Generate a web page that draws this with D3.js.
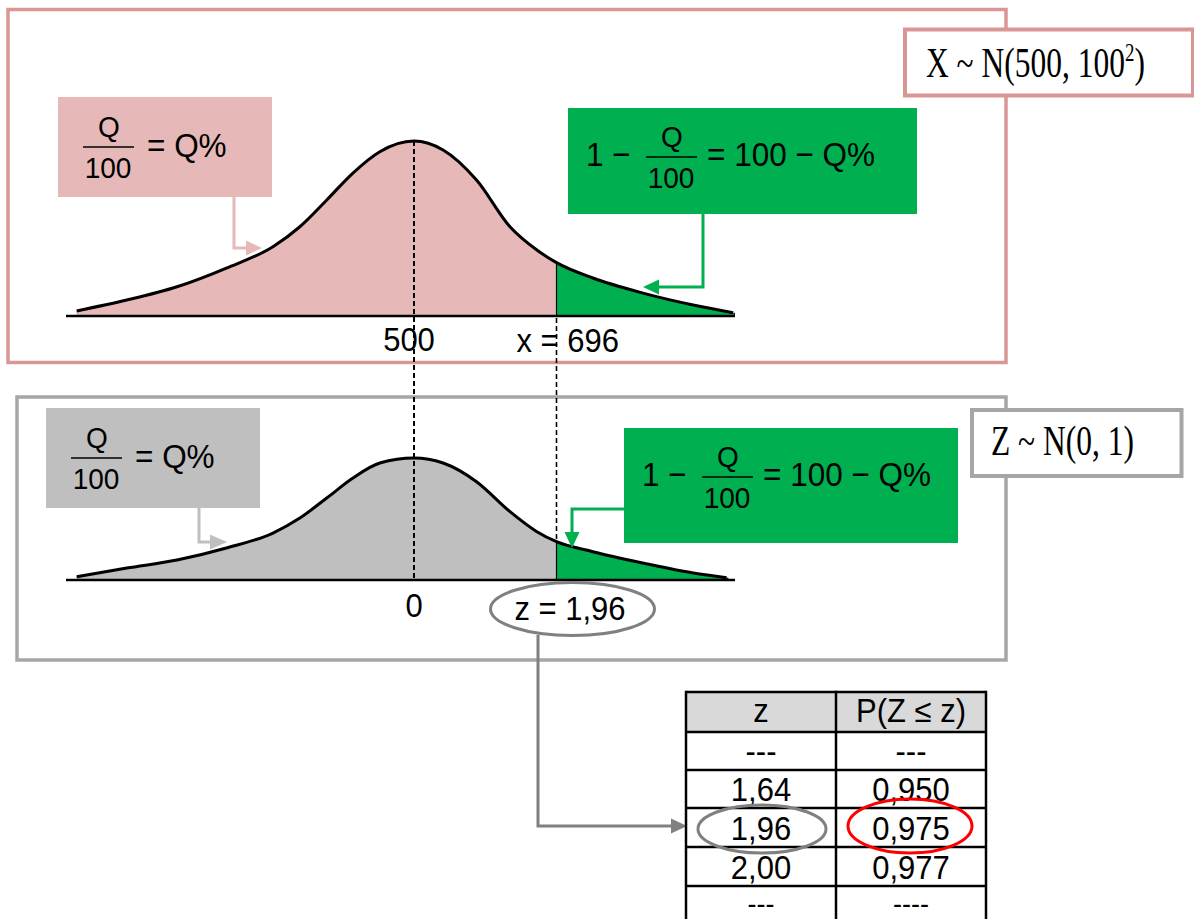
<!DOCTYPE html>
<html>
<head>
<meta charset="utf-8">
<script src="https://cdn.jsdelivr.net/npm/d3@7"></script>
<style>
body{margin:0;background:#fff;}
text{font-family:Arial,"Liberation Sans",sans-serif;fill:#000;}
.serif{font-family:"Liberation Serif","Times New Roman",serif;}
</style>
</head>
<body>
<svg id="chart"></svg>
<script>
// X ~ N(500, 100^2): curve (x value, relative height)
var topX = [36, 105, 174, 242, 306, 343, 380, 416, 453, 500, 540, 586, 632, 669, 696, 746, 815, 884, 939];
var topDensity = [0.029, 0.091, 0.167, 0.274, 0.396, 0.51, 0.663, 0.817, 0.939, 1, 0.949, 0.777, 0.51, 0.377, 0.305, 0.217, 0.131, 0.063, 0.019];
// Z ~ N(0, 1)
var botZ = [-4.64, -3.95, -3.26, -2.58, -1.94, -1.57, -1.2, -0.84, -0.47, 0, 0.4, 0.86, 1.32, 1.69, 1.96, 2.46, 3.15, 3.84, 4.3];
var botDensity = [0.027, 0.098, 0.164, 0.262, 0.385, 0.508, 0.672, 0.836, 0.959, 1, 0.959, 0.806, 0.56, 0.396, 0.314, 0.232, 0.139, 0.057, 0.019];

var topMean = 500, topCut = 696;
var botMean = 0, botCut = 1.96;
var topLabels = ["500", "x = 696"];
var botLabels = ["0", "z = 1,96"];

var tableHead = ["z", "P(Z \u2264 z)"];
var tableZ = ["---", "1,64", "1,96", "2,00", "---"];
var tableP = ["---", "0,950", "0,975", "0,977", "----"];

var W = 1194, H = 919;
var pink = "#e6b9b8", pinkLine = "#d99694", green = "#00b050", grey = "#bfbfbf", greyLine = "#a6a6a6", darkGrey = "#808080";

var svg = d3.select("#chart").attr("width", W).attr("height", H);
var defs = svg.append("defs");

// ---------- panels ----------
svg.append("rect").attr("x", 8).attr("y", 9.5).attr("width", 998).attr("height", 353)
    .attr("fill", "none").attr("stroke", pinkLine).attr("stroke-width", 3.5);
svg.append("rect").attr("x", 17).attr("y", 397).attr("width", 989).attr("height", 263)
    .attr("fill", "none").attr("stroke", greyLine).attr("stroke-width", 3.5);

// scales
var xTop = d3.scaleLinear().domain([topMean, topCut]).range([414, 556.5]);
var yTop = d3.scaleLinear().domain([0, 1]).range([316, 141]);
var xBot = d3.scaleLinear().domain([botMean, botCut]).range([414, 556.5]);
var yBot = d3.scaleLinear().domain([0, 1]).range([580, 458]);

var topPts = d3.zip(topX, topDensity).map(function(d){ return {x: d[0], y: d[1]}; });
var botPts = d3.zip(botZ, botDensity).map(function(d){ return {x: d[0], y: d[1]}; });

// text with a slight vertical stretch, like the original slide
function label(x, y, txt, size, anchor, sy){
    var t = svg.append("g").attr("transform", "translate(" + x + "," + y + ") scale(1," + (sy || 1.08) + ")")
        .append("text").attr("text-anchor", anchor || "start").style("font-size", size + "px").text(txt);
    return t;
}

function drawCurve(xs, ys, pts, cut, leftFill, id){
    var g = svg.append("g").attr("class", "curve " + id);
    var area = d3.area().curve(d3.curveMonotoneX)
        .x(function(d){ return xs(d.x); })
        .y0(ys(0))
        .y1(function(d){ return ys(d.y); });
    var line = d3.line().curve(d3.curveMonotoneX)
        .x(function(d){ return xs(d.x); })
        .y(function(d){ return ys(d.y); });

    defs.append("clipPath").attr("id", id + "L")
        .append("rect").attr("x", 0).attr("y", 0).attr("width", xs(cut)).attr("height", H);
    defs.append("clipPath").attr("id", id + "R")
        .append("rect").attr("x", xs(cut)).attr("y", 0).attr("width", W).attr("height", H);

    g.append("path").datum(pts).attr("d", area).attr("fill", leftFill).attr("clip-path", "url(#" + id + "L)");
    g.append("path").datum(pts).attr("d", area).attr("fill", green).attr("clip-path", "url(#" + id + "R)");

    var cutPt = pts.filter(function(d){ return d.x === cut; })[0];
    g.append("line")
        .attr("x1", xs(cut)).attr("x2", xs(cut))
        .attr("y1", ys(0)).attr("y2", ys(cutPt.y))
        .attr("stroke", "#000").attr("stroke-width", 1.2);

    // baseline
    g.append("line").attr("x1", 66).attr("x2", 735)
        .attr("y1", ys(0)).attr("y2", ys(0))
        .attr("stroke", "#000").attr("stroke-width", 2.5);

    g.append("path").datum(pts).attr("d", line)
        .attr("fill", "none").attr("stroke", "#000").attr("stroke-width", 3);
    // closing stub at the right tail
    var last = pts[pts.length - 1];
    g.append("line").attr("x1", xs(last.x) + 1).attr("x2", xs(last.x) + 1)
        .attr("y1", ys(last.y)).attr("y2", ys(0))
        .attr("stroke", "#000").attr("stroke-width", 1.5);
    return cutPt;
}

var topCutPt = drawCurve(xTop, yTop, topPts, topCut, pink, "topc");
var botCutPt = drawCurve(xBot, yBot, botPts, botCut, grey, "botc");

// dashed guides linking both panels
svg.append("line")
    .attr("x1", xTop(topMean)).attr("x2", xTop(topMean))
    .attr("y1", yTop(1)).attr("y2", yBot(0))
    .attr("stroke", "#000").attr("stroke-width", 2).attr("stroke-dasharray", "5,3");
svg.append("line")
    .attr("x1", xTop(topCut)).attr("x2", xTop(topCut))
    .attr("y1", yTop(0) + 2).attr("y2", yBot(botCutPt.y))
    .attr("stroke", "#000").attr("stroke-width", 1.6).attr("stroke-dasharray", "5,3");

// axis labels
label(xTop(topMean) - 5, 351, topLabels[0], 31, "middle");
label(xTop(topCut) - 40, 352, topLabels[1], 31, "start");
label(xBot(botMean), 617, botLabels[0], 31, "middle");

// z ellipse + connector to table
svg.append("path")
    .attr("d", "M538,635 L538,826 L672,826")
    .attr("fill", "none").attr("stroke", darkGrey).attr("stroke-width", 3);
svg.append("path").attr("d", "M671,818.5 L687,826 L671,833.5 Z").attr("fill", darkGrey);
svg.append("ellipse").attr("cx", 572.5).attr("cy", 609).attr("rx", 82).attr("ry", 26.5)
    .attr("fill", "#fff").attr("stroke", darkGrey).attr("stroke-width", 3);
label(570, 620, botLabels[1], 31, "middle");

// ---------- annotation boxes ----------
function fraction(cx, lineY){
    label(cx + 1, lineY - 10, "Q", 28, "middle");
    svg.append("line").attr("x1", cx - 25).attr("x2", cx + 26).attr("y1", lineY).attr("y2", lineY)
        .attr("stroke", "#000").attr("stroke-width", 1.5);
    label(cx, lineY + 31, "100", 28, "middle");
}

function leftBox(x, y, fill){
    svg.append("rect").attr("x", x).attr("y", y).attr("width", 214).attr("height", 100).attr("fill", fill);
    fraction(x + 50, y + 50);
    label(x + 89, y + 60, "= Q%", 31.5, "start");
}

function greenBox(x, y, w, h){
    svg.append("rect").attr("x", x).attr("y", y).attr("width", w).attr("height", h).attr("fill", green);
    label(x + 18, y + 58, "1 \u2212", 31.5, "start");
    fraction(x + 103, y + 49);
    label(x + 139, y + 58, "= 100 \u2212 Q%", 31.5, "start");
}

// pointer arrows
function arrow(pathD, headD, color){
    svg.append("path").attr("d", pathD).attr("fill", "none").attr("stroke", color).attr("stroke-width", 3);
    svg.append("path").attr("d", headD).attr("fill", color);
}

leftBox(58, 97, pink);
arrow("M234,197 L234,248 L248,248", "M246,240.5 L262,248 L246,255.5 Z", pink);
greenBox(568, 108, 349, 106);
arrow("M703,214 L703,287 L657,287", "M659,279.5 L643,287 L659,294.5 Z", green);

leftBox(46, 408, grey);
arrow("M199,508 L199,542 L212,542", "M210,534.5 L227,542 L210,549.5 Z", grey);
greenBox(624, 428, 334, 115);
arrow("M624,509 L572,509 L572,534", "M564.5,532 L572,548 L579.5,532 Z", green);

// distribution labels
function distLabel(x, y, w, h, color, tx, ty, parts){
    svg.append("rect").attr("x", x).attr("y", y).attr("width", w).attr("height", h)
        .attr("fill", "#fff").attr("stroke", color).attr("stroke-width", 4);
    var t = svg.append("g").attr("transform", "translate(" + tx + "," + ty + ") scale(1,1.33)")
        .append("text").attr("class", "serif").style("font-size", "31.5px");
    parts.forEach(function(p){
        var s = t.append("tspan").text(p.t);
        if (p.sup) s.style("font-size", "19px").attr("dy", -12);
        if (p.down) s.attr("dy", 12);
    });
}
distLabel(905, 29.5, 288, 66, pinkLine, 926, 76.5,
    [{t: "X ~ N(500, 100"}, {t: "2", sup: true}, {t: ")", down: true}]);
distLabel(972, 410, 209.5, 66, greyLine, 991, 455,
    [{t: "Z ~ N(0, 1)"}]);

// ---------- table ----------
var colX = [686, 836, 986];
var rowY = [692, 732, 770, 808, 847, 886, 925];
var tg = svg.append("g").attr("class", "table");
tg.append("rect").attr("x", colX[0]).attr("y", rowY[0]).attr("width", colX[2] - colX[0])
    .attr("height", rowY[1] - rowY[0]).attr("fill", "#d9d9d9");
rowY.forEach(function(y){
    tg.append("line").attr("x1", colX[0]).attr("x2", colX[2]).attr("y1", y).attr("y2", y)
        .attr("stroke", "#000").attr("stroke-width", 2.5);
});
colX.forEach(function(x){
    tg.append("line").attr("x1", x).attr("x2", x).attr("y1", rowY[0] - 1.25).attr("y2", H)
        .attr("stroke", "#000").attr("stroke-width", 2.5);
});

function cell(col, rowIdx, txt, off, size){
    var cx = (colX[col] + colX[col + 1]) / 2;
    tg.append("g").attr("transform", "translate(" + cx + "," + (rowY[rowIdx + 1] - off) + ") scale(1,1.05)")
        .append("text").attr("text-anchor", "middle").style("font-size", (size || 31) + "px").text(txt);
}
cell(0, 0, tableHead[0], 10);
cell(1, 0, tableHead[1], 10);
tableZ.forEach(function(v, i){
    var lastRow = i === tableZ.length - 1;
    cell(0, i + 1, v, lastRow ? 12 : 7, lastRow ? 27 : 31);
});
tableP.forEach(function(v, i){
    var lastRow = i === tableP.length - 1;
    cell(1, i + 1, v, lastRow ? 12 : 7, lastRow ? 27 : 31);
});

// highlight rings
tg.append("ellipse").attr("cx", 762).attr("cy", 829).attr("rx", 64).attr("ry", 24)
    .attr("fill", "none").attr("stroke", darkGrey).attr("stroke-width", 3);
tg.append("ellipse").attr("cx", 910).attr("cy", 826).attr("rx", 62).attr("ry", 27)
    .attr("fill", "none").attr("stroke", "#ff0000").attr("stroke-width", 3);
</script>
</body>
</html>
